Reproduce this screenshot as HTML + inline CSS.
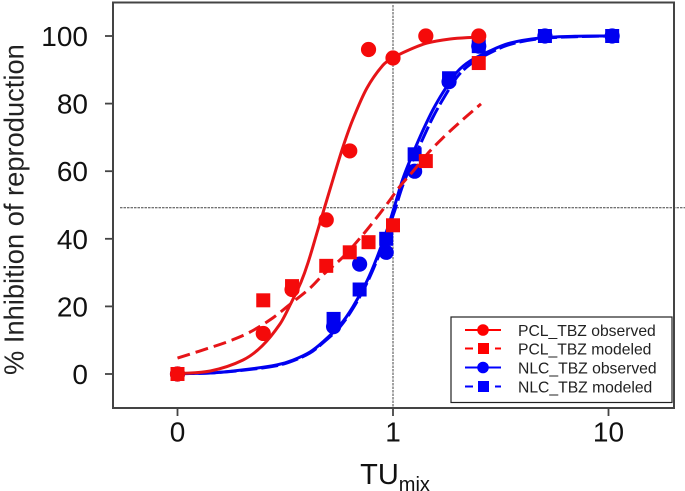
<!DOCTYPE html>
<html lang="en">
<head>
<meta charset="utf-8">
<title>Inhibition of reproduction vs TUmix</title>
<style>
html,body{margin:0;padding:0;background:#fff;width:685px;height:491px;overflow:hidden}
svg{display:block;font-family:"Liberation Sans",Arial,sans-serif}
</style>
</head>
<body>
<svg id="chart" width="685" height="491" viewBox="0 0 685 491">
  <g id="guides"></g>
  <g id="series"></g>
  <rect x="113" y="2.5" width="561" height="405.5" fill="none" stroke="#444" stroke-width="2"/>
  <g id="axes"></g>
  <text x="395" y="484" font-size="29" text-anchor="middle" fill="#111">TU<tspan font-size="20" dy="7">mix</tspan></text>
  <text transform="translate(23.5,375) rotate(-90)" x="0" y="0" font-size="27.3" fill="#222">% Inhibition of reproduction</text>
  <g id="legend"></g>
</svg>
<script>
const xTickValues = [0, 1, 10];
const xTickLabels = ['0', '1', '10'];
const yTickValues = [0, 20, 40, 60, 80, 100];
const referenceX = 1;
const referenceY = 49.2;

const pclObservedX = [0, 0.25, 0.34, 0.49, 0.63, 0.77, 1, 1.42, 2.5];
const pclObservedY = [0, 12, 25, 45.6, 66, 96, 93.5, 100, 100];
const pclModeledX = [0, 0.25, 0.34, 0.49, 0.63, 0.77, 1, 1.42, 2.5];
const pclModeledY = [0, 21.8, 26, 32, 36, 39, 44, 63, 92];
const nlcObservedX = [0, 0.53, 0.7, 0.93, 1.26, 1.82, 2.5, 5.07, 10.4];
const nlcObservedY = [0, 14, 32.5, 36, 60, 86.5, 97, 100, 100];
const nlcModeledX = [0, 0.53, 0.7, 0.93, 1.26, 1.82, 2.5, 5.07, 10.4];
const nlcModeledY = [0, 16.3, 25, 40, 65, 87.5, 97, 100, 100];

const pclObservedCurveX = [0, 0.142, 0.201, 0.247, 0.299, 0.333, 0.374, 0.403, 0.449, 0.473, 0.527, 0.586, 0.652, 0.757, 0.899, 1, 1.16, 1.44, 1.84, 2.45];
const pclObservedCurveY = [0.1, 0.9, 4.1, 8.3, 14.8, 20.4, 27.2, 32.8, 42.9, 47.6, 57.7, 67.2, 75.4, 84.6, 91.4, 93.5, 95.6, 97.9, 99.1, 99.7];
const pclModeledCurveX = [0, 0.142, 0.175, 0.217, 0.277, 0.343, 0.412, 0.473, 0.586, 0.703, 0.843, 0.938, 1.08, 1.24, 1.48, 1.74, 2.05, 2.56];
const pclModeledCurveY = [4.7, 7.8, 9.8, 12.4, 16.6, 21.3, 25.4, 29.3, 34.6, 40.2, 46.4, 50.3, 55.6, 60, 65.9, 70.4, 74.6, 79.9];
const nlcObservedCurveX = [0, 0.142, 0.201, 0.29, 0.343, 0.412, 0.473, 0.568, 0.652, 0.757, 0.843, 0.938, 1.02, 1.11, 1.24, 1.38, 1.53, 1.71, 1.98, 2.28, 2.82, 3.49, 4.81, 7, 10.5];
const nlcObservedCurveY = [0.1, 0.3, 1.2, 2.7, 4.1, 6.5, 9.5, 14.5, 19.9, 27.5, 34.5, 42.6, 50, 57.7, 65.4, 72.2, 78.1, 83.4, 89.3, 92.6, 95.6, 97.9, 99.4, 99.9, 100];
const nlcModeledCurveX = [0, 0.142, 0.201, 0.29, 0.343, 0.412, 0.473, 0.568, 0.652, 0.757, 0.843, 0.938, 1.02, 1.11, 1.24, 1.38, 1.53, 1.71, 1.98, 2.28, 2.82, 3.49, 4.81, 7, 10.5];
const nlcModeledCurveY = [0.1, 0.3, 1.1, 2.5, 3.9, 6.2, 9.2, 14, 19.4, 26.9, 33.7, 41.6, 48.5, 55.8, 63.3, 69.8, 75.9, 81.4, 87.8, 91.6, 95, 97.5, 99.2, 99.8, 100];

const legendLabels = ['PCL_TBZ observed', 'PCL_TBZ modeled', 'NLC_TBZ observed', 'NLC_TBZ modeled'];

const NS = 'http://www.w3.org/2000/svg';
function xScale(v) {
  return v <= 0.1 ? 177.5 : 393 + 215.5 * Math.log10(v);
}
function yScale(v) {
  return 374 - 3.38 * v;
}
function make(parent, tag, attrs) {
  const el = document.createElementNS(NS, tag);
  for (const k in attrs) el.setAttribute(k, attrs[k]);
  parent.appendChild(el);
  return el;
}
function smoothPath(pts) {
  let d = 'M' + pts[0][0].toFixed(1) + ' ' + pts[0][1].toFixed(1);
  for (let i = 0; i < pts.length - 1; i++) {
    const p0 = pts[Math.max(i - 1, 0)];
    const p1 = pts[i];
    const p2 = pts[i + 1];
    const p3 = pts[Math.min(i + 2, pts.length - 1)];
    const h = p2[0] - p1[0];
    const m1 = (p2[1] - p0[1]) / ((p2[0] - p0[0]) || 1);
    const m2 = (p3[1] - p1[1]) / ((p3[0] - p1[0]) || 1);
    const c1x = p1[0] + h / 3;
    const c1y = p1[1] + m1 * h / 3;
    const c2x = p2[0] - h / 3;
    const c2y = p2[1] - m2 * h / 3;
    d += 'C' + c1x.toFixed(1) + ' ' + c1y.toFixed(1) + ' ' + c2x.toFixed(1) + ' ' + c2y.toFixed(1) + ' ' + p2[0].toFixed(1) + ' ' + p2[1].toFixed(1);
  }
  return d;
}

const guides = document.getElementById('guides');
const hLine = make(guides, 'line', {x1: 120, x2: 685, y1: yScale(referenceY), y2: yScale(referenceY), stroke: '#444', 'stroke-width': 1, 'stroke-dasharray': '2.5 1'});


const vLine = make(guides, 'line', {x1: xScale(referenceX), x2: xScale(referenceX), y1: 5, y2: 408, stroke: '#444', 'stroke-width': 1, 'stroke-dasharray': '2.5 1'});



const axes = document.getElementById('axes');
yTickValues.forEach(function (v) {
  const tick = make(axes, 'line', {x1: 105, x2: 113, y1: yScale(v), y2: yScale(v), stroke: '#444', 'stroke-width': 1.8});
  
  
  const label = make(axes, 'text', {x: 88, y: yScale(v) + 10, 'font-size': 28, 'text-anchor': 'end', fill: '#111'});
  label.textContent = String(v);
  
  
});
xTickValues.forEach(function (v, i) {
  const tick = make(axes, 'line', {x1: xScale(v), x2: xScale(v), y1: 408, y2: 416, stroke: '#444', 'stroke-width': 1.8});
  
  
  const label = make(axes, 'text', {x: xScale(v), y: 441.5, 'font-size': 28, 'text-anchor': 'middle', fill: '#111'});
  label.textContent = xTickLabels[i];
  
  
});

function curve(parent, xs, ys, color, dash) {
  const pts = xs.map(function (x, i) { return [xScale(x), yScale(ys[i])]; });
  const attrs = {d: smoothPath(pts), fill: 'none', stroke: color, 'stroke-width': 3};
  if (dash) attrs['stroke-dasharray'] = dash;
  return make(parent, 'path', attrs);
}
function circles(parent, xs, ys, color) {
  xs.forEach(function (x, i) {
    const c = make(parent, 'circle', {cx: xScale(x), cy: yScale(ys[i]), r: 7.6, fill: color});
    
    
  });
}
function squares(parent, xs, ys, color) {
  xs.forEach(function (x, i) {
    const r = make(parent, 'rect', {x: xScale(x) - 7, y: yScale(ys[i]) - 7, width: 14, height: 14, fill: color});
    
    
  });
}

const series = document.getElementById('series');
const blue = '#0000f0';
const red = '#f50a0a';

const nlcGroup = make(series, 'g', {});


const nlcObsLine = curve(nlcGroup, nlcObservedCurveX, nlcObservedCurveY, blue, null);


const nlcModLine = curve(nlcGroup, nlcModeledCurveX, nlcModeledCurveY, blue, '17 4');


circles(nlcGroup, nlcObservedX, nlcObservedY, blue);
squares(nlcGroup, nlcModeledX, nlcModeledY, blue);

const pclGroup = make(series, 'g', {});


const pclObsLine = curve(pclGroup, pclObservedCurveX, pclObservedCurveY, '#e61418', null);


const pclModLine = curve(pclGroup, pclModeledCurveX, pclModeledCurveY, '#e61418', '13 6');


squares(pclGroup, pclModeledX, pclModeledY, red);
circles(pclGroup, pclObservedX, pclObservedY, red);

const legend = document.getElementById('legend');
const legendBox = make(legend, 'rect', {x: 451, y: 317, width: 221, height: 85.5, fill: '#fff', stroke: '#222', 'stroke-width': 1.2});


const legendColors = ['#ff0000', '#ff0000', '#0000ff', '#0000ff'];
const legendRowY = [330, 348.5, 367.5, 386.5];
legendLabels.forEach(function (text, i) {
  const y = legendRowY[i];
  const observed = i % 2 === 0;
  const color = legendColors[i];
  const g = make(legend, 'g', {});
  
  
  if (observed) {
    make(g, 'line', {x1: 465, x2: 501, y1: y, y2: y, stroke: color, 'stroke-width': 2});
    make(g, 'circle', {cx: 483, cy: y, r: 5.8, fill: color});
  } else {
    make(g, 'line', {x1: 465, x2: 473, y1: y, y2: y, stroke: color, 'stroke-width': 2});
    make(g, 'line', {x1: 495, x2: 501, y1: y, y2: y, stroke: color, 'stroke-width': 2});
    make(g, 'rect', {x: 478, y: y - 5.5, width: 11, height: 11, fill: color});
  }
  const label = make(g, 'text', {x: 518, y: y + 6, 'font-size': 15.7, fill: '#222'});
  label.textContent = text;
});
</script>
</body>
</html>
